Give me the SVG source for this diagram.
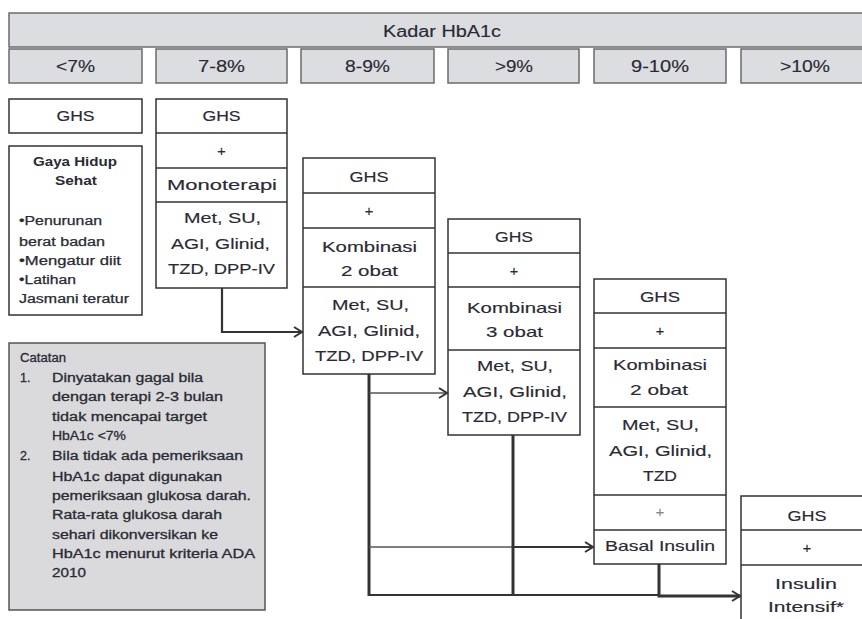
<svg xmlns="http://www.w3.org/2000/svg" width="862" height="619" viewBox="0 0 862 619">
<style>
.hdr{fill:#dcdde0;stroke:#6b6b6b;stroke-width:1.5}
.box{fill:#fff;stroke:#333;stroke-width:1.5}
.div{stroke:#333;stroke-width:1.5}
.note{fill:#dadadc;stroke:#555;stroke-width:1.5}
text{font-family:"Liberation Sans",Arial,sans-serif;fill:#2a2a34;stroke:#2a2a34;stroke-width:0.15}
.h{font-size:16px;text-anchor:middle}
.t{font-size:14.5px;text-anchor:middle}
.s{font-size:12px;stroke-width:0.25}
.b{font-weight:bold;stroke-width:0}
.m{text-anchor:middle}
.n{font-size:12.5px;stroke-width:0.3}
.c{fill:none;stroke:#333}
.thin{stroke-width:1.6;stroke:#555}
.mid{stroke-width:2.2}
.thick{stroke-width:3}
</style>
<defs>
<marker id="ah" markerUnits="userSpaceOnUse" markerWidth="12" markerHeight="12" refX="9" refY="6" orient="auto">
<path d="M1,1 L9,6 L1,11" fill="none" stroke="#333" stroke-width="2"/>
</marker>
</defs>

<g id="kadar">
<rect class="hdr" x="9" y="13" width="862" height="34"/>
<text class="h" x="442" y="37" textLength="118" lengthAdjust="spacingAndGlyphs">Kadar HbA1c</text>
</g>
<g id="h1"><rect class="hdr" x="9" y="49" width="133" height="34"/><text class="h" x="75.5" y="72" textLength="39" lengthAdjust="spacingAndGlyphs">&lt;7%</text></g>
<g id="h2"><rect class="hdr" x="156" y="49" width="131" height="34"/><text class="h" x="221.5" y="72" textLength="47" lengthAdjust="spacingAndGlyphs">7-8%</text></g>
<g id="h3"><rect class="hdr" x="301" y="49" width="133" height="34"/><text class="h" x="367.5" y="72" textLength="45" lengthAdjust="spacingAndGlyphs">8-9%</text></g>
<g id="h4"><rect class="hdr" x="448" y="49" width="131" height="34"/><text class="h" x="514" y="72" textLength="38" lengthAdjust="spacingAndGlyphs">&gt;9%</text></g>
<g id="h5"><rect class="hdr" x="594" y="49" width="132" height="34"/><text class="h" x="660" y="72" textLength="58" lengthAdjust="spacingAndGlyphs">9-10%</text></g>
<g id="h6"><rect class="hdr" x="741" y="49" width="140" height="34"/><text class="h" x="805" y="72" textLength="50" lengthAdjust="spacingAndGlyphs">&gt;10%</text></g>

<g id="c1-ghs"><rect class="box" x="9" y="99" width="133" height="34"/><text class="t" x="75.5" y="121" textLength="38" lengthAdjust="spacingAndGlyphs">GHS</text></g>
<g id="c1-gaya">
<rect class="box" x="9" y="146" width="133" height="169"/>
<text class="s b m" x="75" y="166" textLength="84" lengthAdjust="spacingAndGlyphs">Gaya Hidup</text>
<text class="s b m" x="76" y="185" textLength="42" lengthAdjust="spacingAndGlyphs">Sehat</text>
<text class="s" x="19" y="225" textLength="83" lengthAdjust="spacingAndGlyphs">•Penurunan</text>
<text class="s" x="19" y="246" textLength="86" lengthAdjust="spacingAndGlyphs">berat badan</text>
<text class="s" x="19" y="265" textLength="102" lengthAdjust="spacingAndGlyphs">•Mengatur diit</text>
<text class="s" x="19" y="284" textLength="57" lengthAdjust="spacingAndGlyphs">•Latihan</text>
<text class="s" x="19" y="303" textLength="110" lengthAdjust="spacingAndGlyphs">Jasmani teratur</text>
</g>

<g id="c2">
<rect class="box" x="156" y="99" width="131" height="189"/>
<line class="div" x1="156" y1="133" x2="287" y2="133"/>
<line class="div" x1="156" y1="168" x2="287" y2="168"/>
<line class="div" x1="156" y1="202" x2="287" y2="202"/>
<text class="t" x="221.5" y="121" textLength="38" lengthAdjust="spacingAndGlyphs">GHS</text>
<text class="t" x="221.5" y="156">+</text>
<text class="t" x="222" y="190" textLength="110" lengthAdjust="spacingAndGlyphs">Monoterapi</text>
<text class="t" x="222.5" y="223" textLength="77" lengthAdjust="spacingAndGlyphs">Met, SU,</text>
<text class="t" x="220.5" y="249" textLength="99" lengthAdjust="spacingAndGlyphs">AGI, Glinid,</text>
<text class="t" x="221.5" y="274" textLength="107" lengthAdjust="spacingAndGlyphs">TZD, DPP-IV</text>
</g>

<g id="c3">
<rect class="box" x="303" y="158" width="132" height="216"/>
<line class="div" x1="303" y1="193" x2="435" y2="193"/>
<line class="div" x1="303" y1="228" x2="435" y2="228"/>
<line class="div" x1="303" y1="287" x2="435" y2="287"/>
<text class="t" x="369" y="182" textLength="39" lengthAdjust="spacingAndGlyphs">GHS</text>
<text class="t" x="369" y="216">+</text>
<text class="t" x="369.5" y="252" textLength="95" lengthAdjust="spacingAndGlyphs">Kombinasi</text>
<text class="t" x="369.5" y="276" textLength="57" lengthAdjust="spacingAndGlyphs">2 obat</text>
<text class="t" x="370.5" y="310" textLength="77" lengthAdjust="spacingAndGlyphs">Met, SU,</text>
<text class="t" x="369" y="336" textLength="102" lengthAdjust="spacingAndGlyphs">AGI, Glinid,</text>
<text class="t" x="369" y="361" textLength="108" lengthAdjust="spacingAndGlyphs">TZD, DPP-IV</text>
</g>

<g id="c4">
<rect class="box" x="448" y="219" width="132" height="216"/>
<line class="div" x1="448" y1="253" x2="580" y2="253"/>
<line class="div" x1="448" y1="287" x2="580" y2="287"/>
<line class="div" x1="448" y1="350" x2="580" y2="350"/>
<text class="t" x="514" y="242" textLength="38" lengthAdjust="spacingAndGlyphs">GHS</text>
<text class="t" x="514" y="276">+</text>
<text class="t" x="514.5" y="313" textLength="95" lengthAdjust="spacingAndGlyphs">Kombinasi</text>
<text class="t" x="514.5" y="337" textLength="57" lengthAdjust="spacingAndGlyphs">3 obat</text>
<text class="t" x="515" y="371" textLength="76" lengthAdjust="spacingAndGlyphs">Met, SU,</text>
<text class="t" x="515" y="397" textLength="104" lengthAdjust="spacingAndGlyphs">AGI, Glinid,</text>
<text class="t" x="514.5" y="422" textLength="105" lengthAdjust="spacingAndGlyphs">TZD, DPP-IV</text>
</g>

<g id="c5">
<rect class="box" x="594" y="279" width="132" height="285"/>
<line class="div" x1="594" y1="313" x2="726" y2="313"/>
<line class="div" x1="594" y1="348" x2="726" y2="348"/>
<line class="div" x1="594" y1="407" x2="726" y2="407"/>
<line class="div" x1="594" y1="495" x2="726" y2="495"/>
<line class="div" x1="594" y1="530" x2="726" y2="530"/>
<text class="t" x="660" y="302" textLength="40" lengthAdjust="spacingAndGlyphs">GHS</text>
<text class="t" x="660" y="336">+</text>
<text class="t" x="660" y="370" textLength="94" lengthAdjust="spacingAndGlyphs">Kombinasi</text>
<text class="t" x="659" y="395" textLength="58" lengthAdjust="spacingAndGlyphs">2 obat</text>
<text class="t" x="660.5" y="430" textLength="77" lengthAdjust="spacingAndGlyphs">Met, SU,</text>
<text class="t" x="660.5" y="456" textLength="103" lengthAdjust="spacingAndGlyphs">AGI, Glinid,</text>
<text class="t" x="660" y="481" textLength="34" lengthAdjust="spacingAndGlyphs">TZD</text>
<text class="t" x="660" y="517" style="fill:#888;stroke:#888">+</text>
<text class="t" x="660" y="551" textLength="110" lengthAdjust="spacingAndGlyphs">Basal Insulin</text>
</g>

<g id="c6">
<rect class="box" x="741" y="496" width="140" height="140"/>
<line class="div" x1="741" y1="530" x2="862" y2="530"/>
<line class="div" x1="741" y1="565" x2="862" y2="565"/>
<text class="t" x="807" y="521" textLength="39" lengthAdjust="spacingAndGlyphs">GHS</text>
<text class="t" x="807" y="553">+</text>
<text class="t" x="806" y="589" textLength="62" lengthAdjust="spacingAndGlyphs">Insulin</text>
<text class="t" x="806" y="612" textLength="76" lengthAdjust="spacingAndGlyphs">Intensif*</text>
</g>

<g id="catatan">
<rect class="note" x="9" y="343" width="256" height="267"/>
<text class="n" x="20" y="362" textLength="46" lengthAdjust="spacingAndGlyphs">Catatan</text>
<text class="n" x="20" y="382">1.</text>
<text class="n" x="52" y="382" textLength="151" lengthAdjust="spacingAndGlyphs">Dinyatakan gagal bila</text>
<text class="n" x="52" y="401" textLength="171" lengthAdjust="spacingAndGlyphs">dengan terapi 2-3 bulan</text>
<text class="n" x="52" y="421" textLength="155" lengthAdjust="spacingAndGlyphs">tidak mencapai target</text>
<text class="n" x="52" y="440" textLength="74" lengthAdjust="spacingAndGlyphs">HbA1c &lt;7%</text>
<text class="n" x="20" y="460">2.</text>
<text class="n" x="52" y="460" textLength="191" lengthAdjust="spacingAndGlyphs">Bila tidak ada pemeriksaan</text>
<text class="n" x="52" y="481" textLength="170" lengthAdjust="spacingAndGlyphs">HbA1c dapat digunakan</text>
<text class="n" x="52" y="500" textLength="199" lengthAdjust="spacingAndGlyphs">pemeriksaan glukosa darah.</text>
<text class="n" x="52" y="519" textLength="170" lengthAdjust="spacingAndGlyphs">Rata-rata glukosa darah</text>
<text class="n" x="52" y="539" textLength="166" lengthAdjust="spacingAndGlyphs">sehari dikonversikan ke</text>
<text class="n" x="52" y="558" textLength="203" lengthAdjust="spacingAndGlyphs">HbA1c menurut kriteria ADA</text>
<text class="n" x="52" y="577" textLength="34" lengthAdjust="spacingAndGlyphs">2010</text>
</g>

<g id="connectors">
<path class="c mid" d="M222,288 V332 H302" marker-end="url(#ah)"/>
<path class="c thick" d="M369,374 V596"/>
<path class="c thin" d="M369,393 H447" marker-end="url(#ah)"/>
<path class="c thin" d="M369,547 H513"/>
<path class="c mid" d="M513,547 H593" marker-end="url(#ah)"/>
<path class="c thick" d="M513,435 V596"/>
<path class="c mid" d="M369,595 H659"/>
<path class="c thick" d="M659,564 V596 H740" marker-end="url(#ah)"/>
</g>
</svg>
